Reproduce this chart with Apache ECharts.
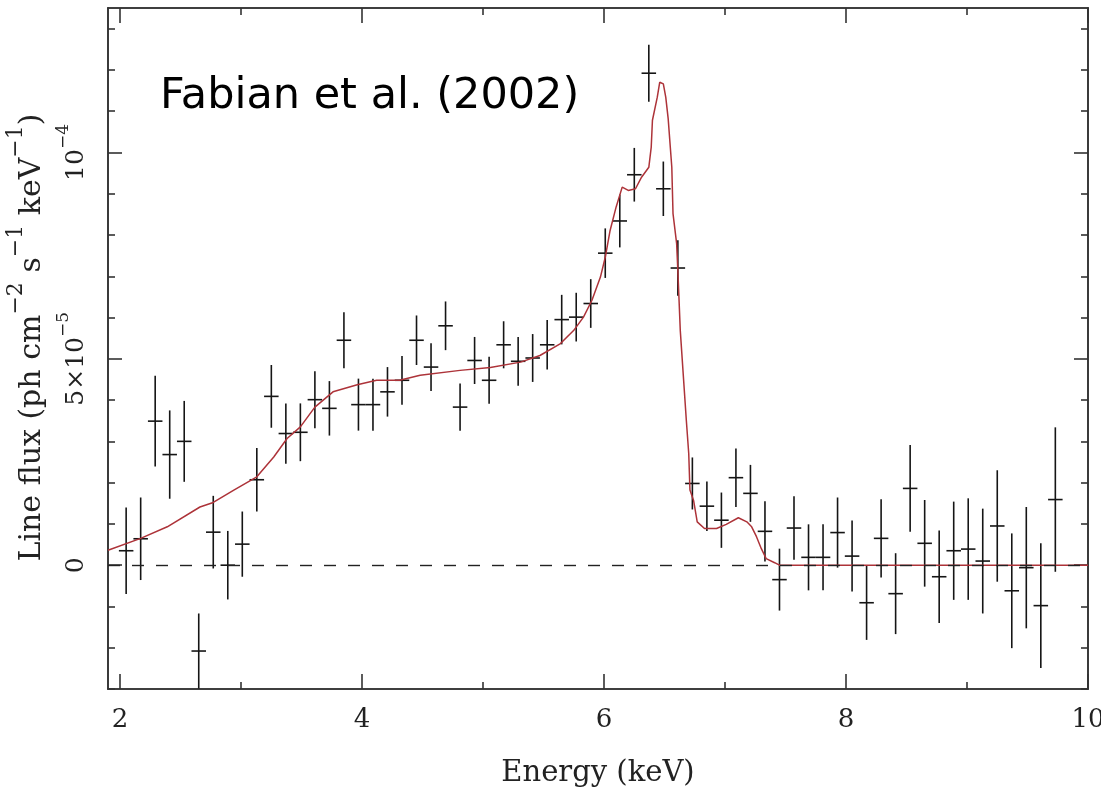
<!DOCTYPE html>
<html><head><meta charset="utf-8">
<script src="https://cdn.jsdelivr.net/npm/echarts@6/dist/echarts.min.js"></script>
<style>html,body{margin:0;padding:0;background:#fff}#c{width:1101px;height:791px}</style>
</head><body><div id="c"></div>
<script>
// Data points: energy (keV), line flux (units of 1e-5 ph cm^-2 s^-1 keV^-1), 1-sigma error (same units)
const energy = [2.05,2.17,2.29,2.41,2.53,2.65,2.77,2.89,3.01,3.13,3.25,3.37,3.49,3.61,3.73,3.85,3.97,4.09,4.21,4.33,4.45,4.57,4.69,4.81,4.93,5.05,5.17,5.29,5.41,5.53,5.65,5.77,5.89,6.01,6.13,6.25,6.37,6.49,6.61,6.73,6.85,6.97,7.09,7.21,7.33,7.45,7.57,7.69,7.81,7.93,8.05,8.17,8.29,8.41,8.53,8.65,8.77,8.89,9.01,9.13,9.25,9.37,9.49,9.61,9.73];
const fluxE5 = [0.35,0.64,3.49,2.68,3.00,-2.08,0.80,0.00,0.51,2.07,4.09,3.19,3.22,4.01,3.80,5.45,3.89,3.89,4.20,4.48,5.45,4.80,5.80,3.83,4.96,4.48,5.34,4.94,5.02,5.34,5.95,6.01,6.34,7.56,8.34,9.46,11.92,9.12,7.20,1.98,1.43,1.09,2.12,1.74,0.82,-0.35,0.90,0.19,0.19,0.79,0.22,-0.91,0.65,-0.69,1.86,0.53,-0.28,0.35,0.39,0.10,0.95,-0.62,-0.06,-0.98,1.59];
const errE5 = [1.05,1.00,1.10,1.07,0.98,0.91,0.88,0.83,0.79,0.77,0.76,0.73,0.70,0.69,0.66,0.68,0.63,0.63,0.60,0.59,0.60,0.58,0.59,0.57,0.57,0.57,0.57,0.59,0.58,0.60,0.60,0.59,0.59,0.60,0.64,0.65,0.69,0.66,0.67,0.63,0.60,0.67,0.71,0.69,0.73,0.75,0.77,0.80,0.80,0.85,0.86,0.90,0.95,0.98,1.05,1.05,1.12,1.19,1.23,1.27,1.35,1.39,1.47,1.51,1.75];
const binHalfWidth = 0.06;

// Model (red curve)
const modelE = [1.90,2.17,2.39,2.66,2.77,2.94,3.13,3.27,3.38,3.49,3.61,3.76,3.96,4.12,4.31,4.48,4.81,5.06,5.31,5.47,5.64,5.75,5.83,5.90,5.97,6.01,6.05,6.10,6.15,6.20,6.26,6.31,6.37,6.39,6.40,6.44,6.46,6.49,6.51,6.53,6.56,6.57,6.60,6.61,6.63,6.68,6.70,6.71,6.74,6.77,6.83,6.93,7.01,7.11,7.18,7.22,7.26,7.30,7.34,7.41,7.45,10.0];
const modelFluxE5 = [0.36,0.65,0.93,1.41,1.52,1.82,2.14,2.62,3.07,3.35,3.83,4.20,4.37,4.48,4.48,4.60,4.72,4.79,4.92,5.08,5.37,5.69,6.01,6.42,6.98,7.46,8.11,8.68,9.16,9.08,9.12,9.40,9.64,10.13,10.78,11.34,11.70,11.66,11.34,10.82,9.64,8.52,7.79,7.14,5.69,3.51,2.70,1.82,1.57,1.05,0.89,0.89,0.99,1.15,1.05,0.93,0.69,0.40,0.16,0.06,0.00,0.00];

const xMajorTicks = [2,4,6,8,10];
const xMinorTicks = [3,5,7,9];
const yMajorTicks = [0,5,10];
const yMinorTicks = [-3,-2,-1,1,2,3,4,6,7,8,9,11,12,13];
const yTickLabels = {0:'0', 5:'{b|5×10}{s|−5}', 10:'{b|10}{s|−4}'};
const xTitle = 'Energy (keV)';
const yTitle = '{t|Line flux (ph cm}{u|−2}{t| s}{u|−1}{t| keV}{u|−1}{t|)}';
const annotation = 'Fabian et al. (2002)';

const SERIF = 'DejaVu Serif';
const axisColor = '#333';
const richStyles = {
  b: {fontFamily: SERIF, fontSize: 25, color: '#222', lineHeight: 34, verticalAlign: 'bottom'},
  s: {fontFamily: SERIF, fontSize: 17, color: '#222', lineHeight: 34, verticalAlign: 'top'},
  t: {fontFamily: SERIF, fontSize: 30, color: '#222', lineHeight: 42, verticalAlign: 'bottom'},
  u: {fontFamily: SERIF, fontSize: 22, color: '#222', lineHeight: 42, verticalAlign: 'top'}
};

const ebData = energy.map((e, i) => [e, fluxE5[i], errE5[i], binHalfWidth]);
const modelData = modelE.map((e, i) => [e, modelFluxE5[i]]);

function xAx(pos, ticks, len, opts) {
  return Object.assign({
    type: 'value', min: 1.9, max: 10, position: pos,
    axisLine: {show: true, onZero: false, lineStyle: {color: axisColor, width: 1.6}},
    axisTick: {show: true, inside: true, length: len, customValues: ticks, lineStyle: {color: axisColor, width: 1.6}},
    axisLabel: {show: false}, splitLine: {show: false}
  }, opts || {});
}
function yAx(pos, ticks, len, opts) {
  return Object.assign({
    type: 'value', min: -3, max: 13.5, position: pos,
    axisLine: {show: true, onZero: false, lineStyle: {color: axisColor, width: 1.6}},
    axisTick: {show: true, inside: true, length: len, customValues: ticks, lineStyle: {color: axisColor, width: 1.6}},
    axisLabel: {show: false}, splitLine: {show: false}
  }, opts || {});
}

const chart = echarts.init(document.getElementById('c'), null, {renderer: 'canvas'});
chart.setOption({
  animation: false,
  backgroundColor: '#fff',
  grid: {left: 108, top: 8, right: 13, bottom: 102, containLabel: false, outerBoundsMode: 'none'},
  xAxis: [
    xAx('bottom', xMajorTicks, 15, {
      axisLabel: {show: true, customValues: xMajorTicks, margin: 18, fontFamily: SERIF, fontSize: 26, color: '#222',
        formatter: v => String(v)},
      name: xTitle, nameLocation: 'middle', nameGap: 70,
      nameTextStyle: {fontFamily: SERIF, fontSize: 29, color: '#222'}
    }),
    xAx('bottom', xMinorTicks, 7),
    xAx('top', xMajorTicks, 15),
    xAx('top', xMinorTicks, 7)
  ],
  yAxis: [
    yAx('left', yMajorTicks, 14, {
      axisLabel: {show: true, customValues: yMajorTicks, rotate: 90, margin: 19,
        formatter: v => yTickLabels[Math.round(v)] || String(v), rich: richStyles,
        fontFamily: SERIF, fontSize: 25, color: '#222'},
      name: yTitle, nameLocation: 'middle', nameGap: 58, nameRotate: 90,
      nameTextStyle: {rich: richStyles, fontFamily: SERIF, fontSize: 30, color: '#222', padding: [0, 0, 0, 22]}
    }),
    yAx('left', yMinorTicks, 7),
    yAx('right', yMajorTicks, 14),
    yAx('right', yMinorTicks, 7)
  ],
  graphic: [{
    type: 'text', left: 160, top: 75, silent: true,
    style: {text: annotation, font: '43px "DejaVu Sans"', fill: '#000'}
  }],
  series: [
    {
      type: 'line', xAxisIndex: 0, yAxisIndex: 0, data: [], z: 1, silent: true,
      markLine: {silent: true, symbol: 'none', label: {show: false},
        lineStyle: {type: [12, 12], color: '#222', width: 1.4},
        data: [{yAxis: 0}]}
    },
    {
      type: 'custom', xAxisIndex: 0, yAxisIndex: 0, z: 2, clip: true, silent: true,
      data: ebData,
      renderItem: function (params, api) {
        const x = api.value(0), y = api.value(1), e = api.value(2), h = api.value(3);
        const t = api.coord([x, y + e]), b = api.coord([x, y - e]);
        const l = api.coord([x - h, y]), r = api.coord([x + h, y]);
        const st = {stroke: '#151515', lineWidth: 1.6};
        return {type: 'group', children: [
          {type: 'line', shape: {x1: t[0], y1: t[1], x2: b[0], y2: b[1]}, style: st},
          {type: 'line', shape: {x1: l[0], y1: l[1], x2: r[0], y2: r[1]}, style: st}
        ]};
      }
    },
    {
      type: 'line', xAxisIndex: 0, yAxisIndex: 0, z: 3, silent: true,
      data: modelData, showSymbol: false, symbol: 'none',
      lineStyle: {color: '#ad3339', width: 1.5}
    }
  ]
});
</script>
</body></html>
